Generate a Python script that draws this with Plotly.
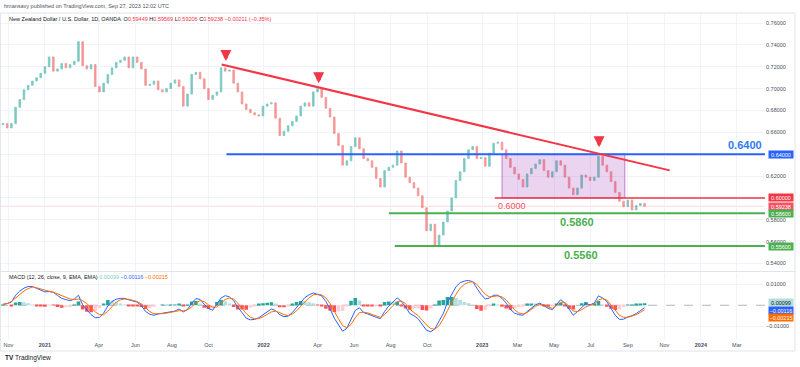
import plotly.graph_objects as go
from plotly.subplots import make_subplots
import pandas as pd

# ---------------- data (weekly samples) ----------------
week_start = "2020-10-23"
closes = [
    0.668, 0.664, 0.668, 0.683, 0.690, 0.699, 0.703, 0.707, 0.710, 0.714,
    0.720, 0.729, 0.716, 0.718, 0.723, 0.719, 0.722, 0.725, 0.743, 0.721,
    0.718, 0.722, 0.702, 0.697, 0.705, 0.713, 0.719, 0.724, 0.726, 0.729,
    0.719, 0.729, 0.724, 0.718, 0.703, 0.704, 0.707, 0.699, 0.697, 0.700,
    0.705, 0.708, 0.702, 0.684, 0.695, 0.713, 0.715, 0.709, 0.700, 0.690,
    0.694, 0.697, 0.719, 0.716, 0.717, 0.705, 0.697, 0.686, 0.681, 0.678,
    0.676, 0.675, 0.684, 0.686, 0.687, 0.673, 0.657, 0.661, 0.666, 0.670,
    0.675, 0.684, 0.687, 0.684, 0.697, 0.700, 0.692, 0.682, 0.674, 0.659,
    0.648, 0.630, 0.634, 0.647, 0.655, 0.645, 0.636, 0.634, 0.628, 0.618,
    0.610, 0.625, 0.628, 0.630, 0.643, 0.632, 0.619, 0.614, 0.609, 0.602,
    0.591, 0.570, 0.576, 0.557, 0.566, 0.578, 0.588, 0.600, 0.616, 0.624,
    0.636, 0.644, 0.647, 0.636, 0.637, 0.629, 0.641, 0.650, 0.651, 0.644,
    0.636, 0.628, 0.622, 0.617, 0.610, 0.622, 0.627, 0.631, 0.635, 0.625,
    0.619, 0.624, 0.634, 0.630, 0.619, 0.609, 0.603, 0.609, 0.621, 0.619,
    0.616, 0.619, 0.638, 0.630, 0.624, 0.615, 0.605, 0.597, 0.592, 0.598,
    0.589, 0.593, 0.595, 0.59238,
]
first_open = 0.667

macd_line = [
    0.0005, 0.0008, 0.0015, 0.0048, 0.0068, 0.0082, 0.0090, 0.0090, 0.0081, 0.0072,
    0.0064, 0.0066, 0.0062, 0.0047, 0.0033, 0.0027, 0.0022, 0.0030, 0.0048, 0.0002,
    -0.0023, -0.0045, -0.0060, -0.0058, -0.0038, -0.0003, 0.0018, 0.0029, 0.0033, 0.0033,
    0.0026, 0.0021, 0.0015, -0.0002, -0.0030, -0.0043, -0.0048, -0.0042, -0.0039, -0.0037,
    -0.0034, -0.0028, -0.0018, -0.0032, -0.0020, 0.0010, 0.0032, 0.0028, 0.0005, -0.0016,
    -0.0024, 0.0008, 0.0035, 0.0046, 0.0040, 0.0022, -0.0010, -0.0035, -0.0062, -0.0070,
    -0.0068, -0.0060, -0.0047, -0.0032, -0.0018, -0.0025, -0.0045, -0.0055, -0.0052, -0.0035,
    -0.0012, 0.0015, 0.0037, 0.0050, 0.0059, 0.0052, 0.0045, 0.0018, -0.0018, -0.0062,
    -0.0095, -0.0125, -0.0110, -0.0070, -0.0025, -0.0012, -0.0035, -0.0042, -0.0051, -0.0058,
    -0.0064, -0.0030, -0.0004, 0.0015, 0.0035, 0.0018, -0.0008, -0.0040, -0.0050, -0.0065,
    -0.0095, -0.0120, -0.0127, -0.0113, -0.0075, -0.0040, 0.0015, 0.0055, 0.0088, 0.0108,
    0.0116, 0.0119, 0.0113, 0.0082, 0.0052, 0.0030, 0.0035, 0.0048, 0.0048, 0.0033,
    0.0010, -0.0020, -0.0038, -0.0045, -0.0048, -0.0030, -0.0012, 0.0002, 0.0010, -0.0003,
    -0.0015, -0.0021, 0.0005, 0.0027, 0.0010, -0.0022, -0.0048, -0.0030, -0.0012, 0.0008,
    0.0002, 0.0010, 0.0045, 0.0035, 0.0018, -0.0015, -0.0048, -0.0068, -0.0067, -0.0056,
    -0.0050, -0.0040, -0.0026, -0.00116,
]
signal_line = [
    0.0004, 0.0008, 0.0018, 0.0035, 0.0052, 0.0068, 0.0080, 0.0087, 0.0084, 0.0078,
    0.0071, 0.0067, 0.0063, 0.0055, 0.0045, 0.0037, 0.0030, 0.0027, 0.0030, 0.0022,
    0.0008, -0.0012, -0.0032, -0.0045, -0.0046, -0.0028, -0.0005, 0.0015, 0.0026, 0.0030,
    0.0028, 0.0024, 0.0018, 0.0006, -0.0012, -0.0030, -0.0041, -0.0042, -0.0040, -0.0038,
    -0.0035, -0.0031, -0.0026, -0.0027, -0.0022, -0.0008, 0.0012, 0.0022, 0.0017, 0.0002,
    -0.0010, -0.0008, 0.0010, 0.0028, 0.0035, 0.0030, 0.0010, -0.0015, -0.0040, -0.0058,
    -0.0065, -0.0064, -0.0056, -0.0044, -0.0032, -0.0029, -0.0035, -0.0045, -0.0050, -0.0042,
    -0.0027, -0.0005, 0.0018, 0.0036, 0.0050, 0.0053, 0.0050, 0.0035, 0.0008, -0.0030,
    -0.0065, -0.0098, -0.0108, -0.0092, -0.0060, -0.0035, -0.0033, -0.0037, -0.0045, -0.0052,
    -0.0058, -0.0045, -0.0022, -0.0002, 0.0018, 0.0020, 0.0008, -0.0018, -0.0035, -0.0050,
    -0.0072, -0.0095, -0.0112, -0.0115, -0.0098, -0.0065, -0.0025, 0.0015, 0.0052, 0.0082,
    0.0100, 0.0110, 0.0113, 0.0100, 0.0078, 0.0052, 0.0040, 0.0042, 0.0045, 0.0040,
    0.0025, 0.0002, -0.0022, -0.0037, -0.0042, -0.0035, -0.0020, -0.0005, 0.0004, 0.0002,
    -0.0008, -0.0015, -0.0002, 0.0015, 0.0013, -0.0005, -0.0028, -0.0030, -0.0022, -0.0008,
    0.0000, 0.0006, 0.0025, 0.0032, 0.0025, 0.0002, -0.0025, -0.0048, -0.0058, -0.0058,
    -0.0052, -0.0045, -0.0034, -0.00215,
]

price_ticks = [0.54, 0.56, 0.58, 0.60, 0.62, 0.64, 0.66, 0.68, 0.70, 0.72, 0.74, 0.76]
price_tick_labels = ["0.54000", "0.56000", "0.58000", "", "0.62000", "", "0.66000",
                     "0.68000", "0.70000", "0.72000", "0.74000", "0.76000"]
macd_ticks = [-0.01, 0.01]
macd_tick_labels = ["−0.01000", "0.01000"]
month_ticks = ["2020-11-01", "2021-01-01", "2021-04-01", "2021-06-01", "2021-08-01",
               "2021-10-01", "2022-01-01", "2022-04-01", "2022-06-01", "2022-08-01",
               "2022-10-01", "2023-01-01", "2023-03-01", "2023-05-01", "2023-07-01",
               "2023-09-01", "2023-11-01", "2024-01-01", "2024-03-01"]
month_labels = ["Nov", "<b>2021</b>", "Apr", "Jun", "Aug", "Oct", "<b>2022</b>", "Apr", "Jun",
                "Aug", "Oct", "<b>2023</b>", "Mar", "May", "Jul", "Sep", "Nov", "<b>2024</b>", "Mar"]

x_range = ["2020-10-18", "2024-04-17"]

# drawing levels
trend_dates = ["2021-10-23", "2023-11-10"]
trend_prices = [0.7221, 0.6252]
level_blue = ("2021-10-31", 0.64)
level_red = ("2023-01-22", 0.60)
level_green1 = ("2022-07-29", 0.586)
level_green2 = ("2022-08-08", 0.556)
range_box = ("2023-02-03", "2023-08-27", 0.60, 0.64)
last_price = 0.59238
arrow_dates = ["2021-10-30", "2022-04-03", "2023-07-15"]
arrow_prices = [0.7252, 0.7050, 0.6463]

# ---------------- derived ----------------
dates = pd.date_range(week_start, periods=len(closes), freq="7D")
opens = [first_open] + closes[:-1]
highs = [max(o, c) for o, c in zip(opens, closes)]
lows = [min(o, c) for o, c in zip(opens, closes)]
hist = [m - s for m, s in zip(macd_line, signal_line)]
hist_colors = []
for i, h in enumerate(hist):
    prev = hist[i - 1] if i > 0 else 0
    if h >= 0:
        hist_colors.append("#26a69a" if h >= prev else "#b2dfdb")
    else:
        hist_colors.append("#ff5252" if h <= prev else "#ffcdd2")

FONT = "Liberation Sans, Arial, sans-serif"
GRID = "#f0f3fa"
UP = "#26a69a"
DOWN = "#ef5350"

fig = make_subplots(rows=2, cols=1, shared_xaxes=True)

fig.add_trace(go.Candlestick(
    x=dates, open=opens, high=highs, low=lows, close=closes,
    increasing=dict(line=dict(color=UP, width=0.8), fillcolor=UP),
    decreasing=dict(line=dict(color=DOWN, width=0.8), fillcolor=DOWN),
    whiskerwidth=0, opacity=0.6, showlegend=False, hoverinfo="skip"), row=1, col=1)

fig.add_trace(go.Bar(x=dates, y=hist, marker=dict(color=hist_colors, line=dict(width=0)),
                     showlegend=False, hoverinfo="skip"), row=2, col=1)
fig.add_trace(go.Scatter(x=dates, y=macd_line, mode="lines", line=dict(color="#2962ff", width=1),
                         showlegend=False, hoverinfo="skip"), row=2, col=1)
fig.add_trace(go.Scatter(x=dates, y=signal_line, mode="lines", line=dict(color="#ff6d00", width=1),
                         showlegend=False, hoverinfo="skip"), row=2, col=1)

# ---------------- layout ----------------
W, H = 800, 367
ml, mr, mt, mb = 0, 35, 13, 27
ph = H - mt - mb
main_bottom = (H - mb - 271.5) / ph
macd_top = (H - mb - 272.5) / ph

axis_common = dict(showgrid=True, gridcolor=GRID, gridwidth=1, zeroline=False,
                   showline=False, ticks="", tickfont=dict(size=5.5, color="#4a4e5a", family=FONT))
fig.update_layout(
    width=W, height=H, margin=dict(l=ml, r=mr, t=mt, b=mb),
    paper_bgcolor="white", plot_bgcolor="white", bargap=0.15, boxgap=0.45,
    font=dict(family=FONT, color="#131722"),
    xaxis=dict(range=x_range, tickvals=month_ticks, ticktext=month_labels, showticklabels=False,
               rangeslider=dict(visible=False), **axis_common),
    xaxis2=dict(range=x_range, tickvals=month_ticks, ticktext=month_labels, showticklabels=True,
                **axis_common),
    yaxis=dict(domain=[main_bottom, 1], range=[0.5327, 0.7692], side="right",
               tickvals=price_ticks, ticktext=price_tick_labels, **axis_common),
    yaxis2=dict(domain=[0, macd_top], range=[-0.01667, 0.01571], side="right",
                tickvals=macd_ticks, ticktext=macd_tick_labels, **axis_common),
)

x_end = x_range[1]
shapes = []
shapes.append(dict(type="line", xref="x", yref="y", x0=x_range[0], x1=x_end, y0=last_price, y1=last_price,
                   line=dict(color="rgba(242,54,69,0.18)", width=1), layer="below"))
shapes.append(dict(type="rect", xref="x", yref="y", x0=range_box[0], x1=range_box[1],
                   y0=range_box[2], y1=range_box[3], fillcolor="rgba(156,39,176,0.2)",
                   line=dict(color="rgba(156,39,176,0.55)", width=1)))
shapes.append(dict(type="line", xref="x", yref="y", x0=level_blue[0], x1=x_end, y0=level_blue[1], y1=level_blue[1],
                   line=dict(color="#2962ff", width=2)))
shapes.append(dict(type="line", xref="x", yref="y", x0=level_red[0], x1=x_end, y0=level_red[1], y1=level_red[1],
                   line=dict(color="#f23645", width=1.5)))
shapes.append(dict(type="line", xref="x", yref="y", x0=level_green1[0], x1=x_end, y0=level_green1[1], y1=level_green1[1],
                   line=dict(color="#4caf50", width=2)))
shapes.append(dict(type="line", xref="x", yref="y", x0=level_green2[0], x1=x_end, y0=level_green2[1], y1=level_green2[1],
                   line=dict(color="#4caf50", width=2)))
shapes.append(dict(type="line", xref="x", yref="y", x0=trend_dates[0], x1=trend_dates[1],
                   y0=trend_prices[0], y1=trend_prices[1], line=dict(color="#f23645", width=2)))
shapes.append(dict(type="line", xref="x2", yref="y2", x0=x_range[0], x1=x_end, y0=0, y1=0,
                   line=dict(color="#b2b5be", width=1, dash="dash"), layer="below"))
shapes.append(dict(type="line", xref="paper", yref="paper", x0=0, x1=1 + 30 / 765, y0=main_bottom, y1=main_bottom,
                   line=dict(color="#e0e3eb", width=1)))
shapes.append(dict(type="rect", xref="paper", yref="paper", x0=0.0005, x1=1 + 30 / 765, y0=-11 / ph, y1=1,
                   line=dict(color="#e0e3eb", width=1)))
fig.update_layout(shapes=shapes)

ann = []
ann.append(dict(xref="paper", yref="paper", x=2 / 765, y=1 + 7 / ph, xanchor="left", yanchor="middle",
                text="hmansavy published on TradingView.com, Sep 27, 2023 12:02 UTC",
                showarrow=False, font=dict(size=5.5, color="#50535e", family=FONT)))
red = "#f23645"
legend_txt = ("New Zealand Dollar / U.S. Dollar, 1D, OANDA  O<span style='color:%s'>0.59449</span> "
              "H<span style='color:%s'>0.59569</span> L<span style='color:%s'>0.59206</span> "
              "C<span style='color:%s'>0.59238</span> <span style='color:%s'>−0.00211 (−0.35%%)</span>"
              % (red, red, red, red, red))
ann.append(dict(xref="paper", yref="paper", x=7 / 765, y=1 - 5.5 / ph, xanchor="left", yanchor="middle",
                text=legend_txt, showarrow=False, font=dict(size=5.5, color="#131722", family=FONT)))
macd_txt = ("MACD (12, 26, close, 9, EMA, EMA) <span style='color:#80cbc4'>0.00099</span> "
            "<span style='color:#2962ff'>−0.00116</span> <span style='color:#ff6d00'>−0.00215</span>")
ann.append(dict(xref="paper", yref="paper", x=7 / 765, y=(H - mb - 277) / ph, xanchor="left", yanchor="middle",
                text=macd_txt, showarrow=False, font=dict(size=5.5, color="#131722", family=FONT)))
ann.append(dict(xref="paper", yref="paper", x=3 / 765, y=(H - mb - 358) / ph, xanchor="left", yanchor="middle",
                text="<b>TV</b> TradingView", showarrow=False, font=dict(size=6.5, color="#131722", family=FONT)))

ann.append(dict(xref="x", yref="y", x="2024-03-14", y=0.64, yanchor="bottom", yshift=1, showarrow=False,
                text="<b>0.6400</b>", font=dict(size=11, color="#3179f5", family=FONT)))
ann.append(dict(xref="x", yref="y", x="2023-02-20", y=0.60, yanchor="top", yshift=-1, showarrow=False,
                text="0.6000", font=dict(size=9, color="#f7525f", family=FONT)))
ann.append(dict(xref="x", yref="y", x="2023-06-09", y=0.586, yanchor="top", yshift=-1, showarrow=False,
                text="<b>0.5860</b>", font=dict(size=11, color="#4caf50", family=FONT)))
ann.append(dict(xref="x", yref="y", x="2023-06-15", y=0.556, yanchor="top", yshift=-1, showarrow=False,
                text="<b>0.5560</b>", font=dict(size=11, color="#4caf50", family=FONT)))

for d, p in zip(arrow_dates, arrow_prices):
    ann.append(dict(xref="x", yref="y", x=d, y=p, ax=0, ay=-12, text="", showarrow=True,
                    arrowhead=2, arrowsize=0.55, arrowwidth=4, arrowcolor="#f23645"))

def box(yref, y, text, bg, fg="white"):
    return dict(xref="paper", yref=yref, x=1, y=y, xanchor="left", yanchor="middle", xshift=3,
                text=text, showarrow=False, bgcolor=bg, borderpad=0, width=24, height=7, align="center",
                font=dict(size=5.5, color=fg, family=FONT))

ann.append(box("y", 0.64, "0.64000", "#2962ff"))
ann.append(box("y", 0.60, "0.60000", "#f23645"))
ann.append(box("y", last_price, "0.59238", "#f7525f"))
ann.append(box("y", 0.586, "0.58600", "#4caf50"))
ann.append(box("y", 0.556, "0.55600", "#4caf50"))
ann.append(box("y2", 0.0011, "0.00099", "#b2dfdb", "#131722"))
ann.append(box("y2", -0.0024, "−0.00116", "#2962ff"))
ann.append(box("y2", -0.0060, "−0.00215", "#ff6d00"))

fig.update_layout(annotations=ann)
fig.write_html("out.html", config={"displayModeBar": False})

# remove the default page margin so the figure sits at the window's top-left corner
with open("out.html", encoding="utf-8") as f:
    html = f.read()
html = html.replace("<head>", "<head><style>html,body{margin:0;padding:0;overflow:hidden;}</style>", 1)
with open("out.html", "w", encoding="utf-8") as f:
    f.write(html)
